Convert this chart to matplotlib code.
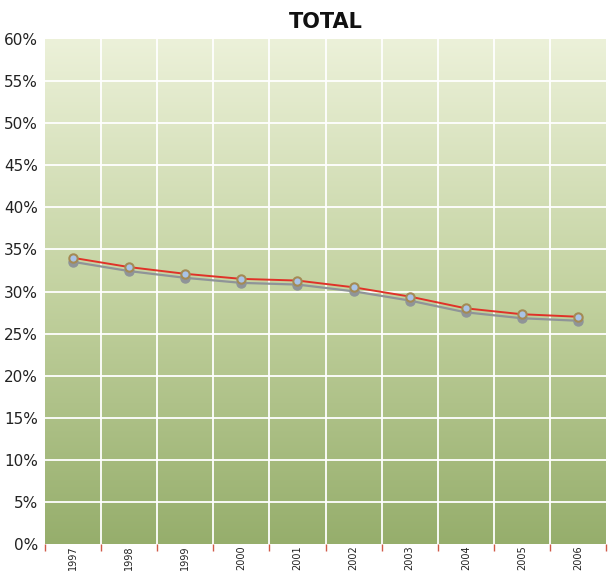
import numpy as np
import matplotlib
matplotlib.use("Agg")
import matplotlib.pyplot as plt
import matplotlib.transforms as mtransforms
from matplotlib.colors import LinearSegmentedColormap

years = ["1997", "1998", "1999", "2000", "2001", "2002", "2003", "2004", "2005", "2006"]
total = [34.0, 32.9, 32.1, 31.5, 31.3, 30.5, 29.4, 28.0, 27.3, 27.0]
y_ticks = [0, 5, 10, 15, 20, 25, 30, 35, 40, 45, 50, 55, 60]

narrow = ['Liberation Sans Narrow', 'DejaVu Sans']
plt.rcParams['font.family'] = narrow

fig = plt.figure(figsize=(6.08, 5.71), dpi=100)
ax = fig.add_axes([45 / 608, 1 - 544 / 571, 561 / 608, 505 / 571])

x = np.arange(len(years))
ax.set_xlim(-0.5, len(years) - 0.5)
ax.set_ylim(0, 60)

# background gradient
cmap = LinearSegmentedColormap.from_list("bg", ["#96ae6c", "#c3d2a0", "#ecf1d9"])
grad = np.linspace(0, 1, 256).reshape(-1, 1)
ax.imshow(grad, cmap=cmap, aspect="auto", origin="lower",
          extent=[-0.5, len(years) - 0.5, 0, 60], zorder=0)

# grid
for yv in y_ticks[1:-1]:
    ax.axhline(yv, color="white", lw=1.3, zorder=1)
for xv in np.arange(0.5, len(years) - 1, 1):
    ax.axvline(xv, color="white", lw=1.3, zorder=1)

# shadow line
shadow = mtransforms.offset_copy(ax.transData, fig=fig, x=0, y=-4, units="dots")
ax.plot(x, total, color="#8f9498", lw=1.6, marker="o", ms=6.5, mfc="#8f9498",
        mec="#8f9498", transform=shadow, zorder=2)
ax.plot(x, total, color="#e03228", lw=1.4, marker="o", ms=6, mfc="#a9c3e6",
        mec="#a48a54", mew=1.5, zorder=3)

for s in ax.spines.values():
    s.set_visible(False)

ax.set_yticks(y_ticks)
ax.set_yticklabels([f"{v}%" for v in y_ticks], fontsize=11, color="#222222")
ax.tick_params(axis="y", length=0, pad=5)

ax.set_xticks(x)
ax.set_xticklabels(years, rotation=90, fontsize=7, color="#222222", va="top")
ax.tick_params(axis="x", length=0, pad=1)
ax.set_xticks(np.arange(-0.5, len(years), 1), minor=True)
ax.tick_params(axis="x", which="minor", length=5, width=1, color="#d05a48")

ax.set_title("TOTAL", fontsize=15, fontweight="bold", color="#111111", pad=8)

fig.savefig("out.png", dpi=100)
